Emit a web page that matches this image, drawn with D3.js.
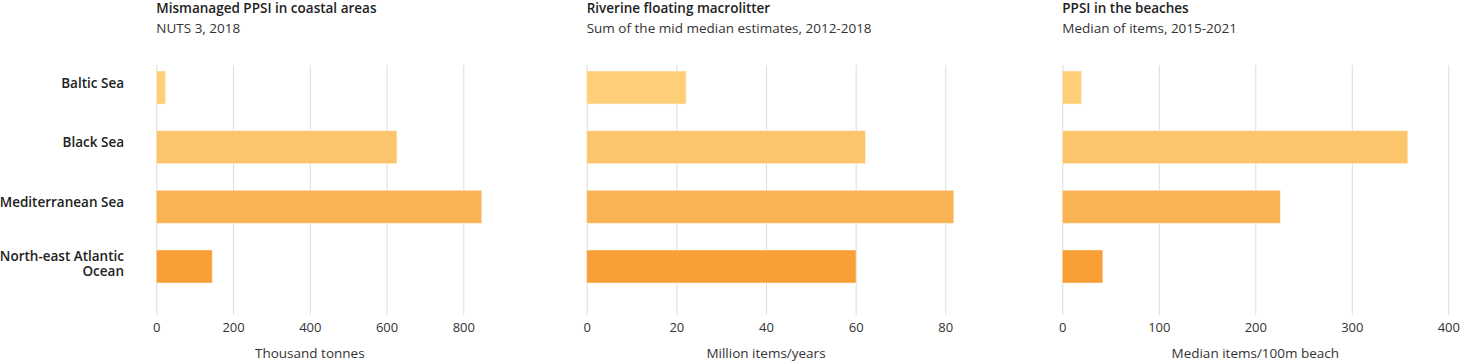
<!DOCTYPE html>
<html>
<head>
<meta charset="utf-8">
<script src="https://cdn.jsdelivr.net/npm/d3@7"></script>
<style>
  body { margin: 0; background: #fff; }
  svg { display: block; font-family: "Open Sans", sans-serif; }
</style>
</head>
<body>
<div id="chart"></div>
<script>
// data
var seas = ["Baltic Sea", "Black Sea", "Mediterranean Sea", "North-east Atlantic Ocean"];
var seaColors = ["#fecf78", "#fdc56b", "#fab352", "#f89f37"];

var mismanaged = [24, 627, 848, 146];
var riverine = [22.2, 62.2, 81.9, 60.1];
var beaches = [20, 358, 226, 42];

var titles = ["Mismanaged PPSI in coastal areas", "Riverine floating macrolitter", "PPSI in the beaches"];
var subtitles = ["NUTS 3, 2018", "Sum of the mid median estimates, 2012-2018", "Median of items, 2015-2021"];
var axisTitles = ["Thousand tonnes", "Million items/years", "Median items/100m beach"];
var ticks1 = [0, 200, 400, 600, 800];
var ticks2 = [0, 20, 40, 60, 80];
var ticks3 = [0, 100, 200, 300, 400];

var width = 1460, height = 363;
var gridTop = 65, gridBottom = 315;

var svg = d3.select("#chart")
  .append("svg")
  .attr("width", width)
  .attr("height", height);

var y = d3.scaleBand()
  .domain(seas)
  .range([65, 289])
  .paddingInner(0.446)
  .paddingOuter(0.1);

var panels = [
  { values: mismanaged, ticks: ticks1, range: [156.3, 463.3] },
  { values: riverine, ticks: ticks2, range: [586.7, 945.3] },
  { values: beaches, ticks: ticks3, range: [1062.3, 1448.3] }
];

panels.forEach(function(p, k) {
  var x = d3.scaleLinear()
    .domain([0, d3.max(p.ticks)])
    .range(p.range);

  var g = svg.append("g");

  // gridlines + tick labels
  var axis = g.append("g")
    .attr("transform", "translate(0," + gridBottom + ")")
    .call(d3.axisBottom(x)
      .tickValues(p.ticks)
      .tickSize(-(gridBottom - gridTop))
      .tickPadding(8)
      .tickFormat(d3.format("d")));
  axis.select(".domain").remove();
  axis.selectAll(".tick line").attr("stroke", "#dcdcdc");
  axis.selectAll(".tick text")
    .attr("fill", "#333")
    .style("font-size", "13px")
    .style("font-family", "'Open Sans', sans-serif");

  // bars
  g.selectAll("rect.bar")
    .data(p.values)
    .enter()
    .append("rect")
    .attr("class", "bar")
    .attr("x", x(0))
    .attr("y", function(d, i) { return y(seas[i]); })
    .attr("width", function(d) { return x(d) - x(0); })
    .attr("height", y.bandwidth())
    .attr("fill", function(d, i) { return seaColors[i]; })
    .attr("stroke", "#fff")
    .attr("stroke-opacity", 0.45)
    .attr("stroke-width", 1);

  // titles
  g.append("text")
    .attr("x", x(0))
    .attr("y", 13)
    .attr("fill", "#222")
    .style("font-size", "13.5px")
    .style("font-weight", 600)
    .text(titles[k]);

  g.append("text")
    .attr("x", x(0))
    .attr("y", 33)
    .attr("fill", "#333")
    .style("font-size", "13.5px")
    .text(subtitles[k]);

  g.append("text")
    .attr("x", (p.range[0] + p.range[1]) / 2)
    .attr("y", 358)
    .attr("text-anchor", "middle")
    .attr("fill", "#333")
    .style("font-size", "13.5px")
    .text(axisTitles[k]);
});

// category labels on the left
var labelW = 130;
seas.forEach(function(s) {
  var t = svg.append("text")
    .attr("text-anchor", "end")
    .attr("fill", "#222")
    .style("font-size", "13.5px")
    .style("font-weight", 600);
  // simple word wrap
  var words = s.split(" "), lines = [], line = [];
  words.forEach(function(w) {
    line.push(w);
    t.text(line.join(" "));
    if (t.node().getComputedTextLength() > labelW && line.length > 1) {
      line.pop();
      lines.push(line.join(" "));
      line = [w];
    }
  });
  lines.push(line.join(" "));
  t.text(null);
  var lh = 15;
  var shift = lines.length > 1 ? 3 : 4.5;
  var cy = y(s) + y.bandwidth() / 2 - shift - (lines.length - 1) * lh / 2;
  lines.forEach(function(l, i) {
    t.append("tspan")
      .attr("x", 124)
      .attr("y", cy + i * lh)
      .attr("dy", "0.35em")
      .text(l);
  });
});
</script>
</body>
</html>
